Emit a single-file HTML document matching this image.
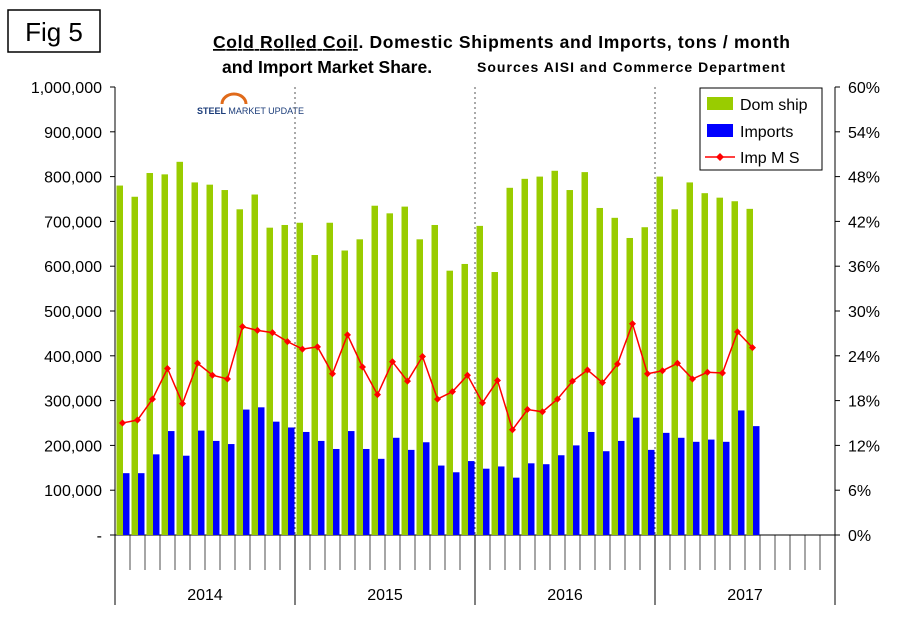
<!DOCTYPE html>
<html><head><meta charset="utf-8"><style>
body{margin:0;background:#fff;}
svg text{font-family:"Liberation Sans",Arial,sans-serif;}
</style></head><body>
<svg id="chart" width="910" height="622" xmlns="http://www.w3.org/2000/svg">
<rect x="0" y="0" width="910" height="622" fill="#fff"/>
<rect x="8" y="10" width="92" height="42" fill="#fff" stroke="#000" stroke-width="1.5"/>
<text x="54" y="41" font-size="26" text-anchor="middle">Fig 5</text>
<text x="213" y="48" font-size="17.5" font-weight="bold" textLength="577"><tspan text-decoration="underline">Cold Rolled Coil</tspan>. Domestic Shipments and Imports, tons / month</text>
<text x="222" y="73" font-size="17.5" font-weight="bold">and Import  Market Share.</text>
<text x="477" y="72" font-size="14" font-weight="bold" textLength="308">Sources AISI and Commerce Department</text>
<text x="197" y="114" font-size="9" font-weight="bold" fill="#1c3d7a">STEEL <tspan font-weight="normal">MARKET UPDATE</tspan></text>
<path d="M222 104 A12 10 0 0 1 246 104" stroke="#e06a1a" stroke-width="3" fill="none"/>
<g id="plot"></g>
<g>
<rect x="700" y="88" width="122" height="82" fill="#fff" stroke="#000" stroke-width="1"/>
<rect x="707" y="97" width="26" height="13" fill="#99cc00"/>
<text x="740" y="110" font-size="16">Dom ship</text>
<rect x="707" y="124" width="26" height="13" fill="#0000ff"/>
<text x="740" y="137" font-size="16">Imports</text>
<line x1="705" y1="157" x2="735" y2="157" stroke="#ff0000" stroke-width="1.5"/>
<path d="M720 153 L724 157 L720 161 L716 157Z" fill="#ff0000"/>
<text x="740" y="163" font-size="16">Imp M S</text>
</g>
</svg>
<script>
const years=["2014","2015","2016","2017"];
const domShip=[780,755,808,805,833,787,782,770,727,760,686,692,697,625,697,635,660,735,718,733,660,692,590,605,690,587,775,795,800,813,770,810,730,708,663,687,800,727,787,763,753,745,728];
const imports=[138,138,180,232,177,233,210,203,280,285,253,240,230,210,192,232,192,170,217,190,207,155,140,165,148,153,128,160,158,178,200,230,187,210,262,190,228,217,208,213,208,278,243];
const marketShare=[15.0,15.4,18.2,22.3,17.6,23.0,21.4,20.9,27.9,27.4,27.1,25.9,24.9,25.2,21.6,26.8,22.5,18.8,23.2,20.6,23.9,18.2,19.2,21.4,17.7,20.7,14.1,16.8,16.5,18.2,20.6,22.1,20.4,22.9,28.3,21.6,22.0,23.0,20.9,21.8,21.7,27.2,25.1];
const leftTicks=["-","100,000","200,000","300,000","400,000","500,000","600,000","700,000","800,000","900,000","1,000,000"];
const rightTicks=["0%","6%","12%","18%","24%","30%","36%","42%","48%","54%","60%"];
const NS="http://www.w3.org/2000/svg";
const g=document.getElementById('plot');
const X0=115,Y0=535,Y1=87,MW=15,NM=48;
const yL=v=>Y0-(v*1000)/1e6*(Y0-Y1);
const yR=p=>Y0-p/60*(Y0-Y1);
const xM=i=>X0+i*MW;
function el(t,a){const e=document.createElementNS(NS,t);for(const k in a)e.setAttribute(k,a[k]);g.appendChild(e);return e;}
let a=el('line',{x1:X0,y1:Y1,x2:X0,y2:Y0,stroke:'#000'});

a=el('line',{x1:X0+NM*MW,y1:Y1,x2:X0+NM*MW,y2:Y0,stroke:'#000'});

a=el('line',{x1:X0,y1:Y0,x2:X0+NM*MW,y2:Y0,stroke:'#000'});

leftTicks.forEach((t,i)=>{const y=Y0-i*(Y0-Y1)/10;
 el('line',{x1:X0-5,y1:y,x2:X0,y2:y,stroke:'#000'});
 const tx=el('text',{x:X0-13,y:y+6,'font-size':16,'text-anchor':'end'});tx.textContent=t;
 });
rightTicks.forEach((t,i)=>{const y=Y0-i*(Y0-Y1)/10;
 el('line',{x1:X0+NM*MW,y1:y,x2:X0+NM*MW+5,y2:y,stroke:'#000'});
 const tx=el('text',{x:X0+NM*MW+13,y:y+6,'font-size':16});tx.textContent=t;
 });
for(let i=0;i<=NM;i++){const yr=i%12===0;
 el('line',{x1:xM(i),y1:Y0,x2:xM(i),y2:yr?605:570,stroke:'#000','stroke-width':yr?1:0.7});
 if(yr&&i>0&&i<NM){el('line',{x1:xM(i),y1:Y1,x2:xM(i),y2:Y0,stroke:'#555','stroke-dasharray':'2,3'});}}
years.forEach((y,i)=>{const tx=el('text',{x:xM(i*12+6),y:600,'font-size':16,'text-anchor':'middle'});tx.textContent=y;
 });
domShip.forEach((v,i)=>{const r=el('rect',{x:xM(i)+1.5,y:yL(v),width:6.5,height:Y0-yL(v),fill:'#99cc00'});
 });
imports.forEach((v,i)=>{const r=el('rect',{x:xM(i)+8,y:yL(v),width:6.5,height:Y0-yL(v),fill:'#0000ff'});
 });
const pts=marketShare.map((p,i)=>[xM(i)+7.5,yR(p)]);
const pl=el('polyline',{points:pts.map(p=>p.join(',')).join(' '),fill:'none',stroke:'#ff0000','stroke-width':1.5});

pts.forEach(([x,y])=>{const m=el('path',{d:`M${x} ${y-3.5}L${x+3.5} ${y}L${x} ${y+3.5}L${x-3.5} ${y}Z`,fill:'#ff0000'});
 });
</script>
</body></html>
